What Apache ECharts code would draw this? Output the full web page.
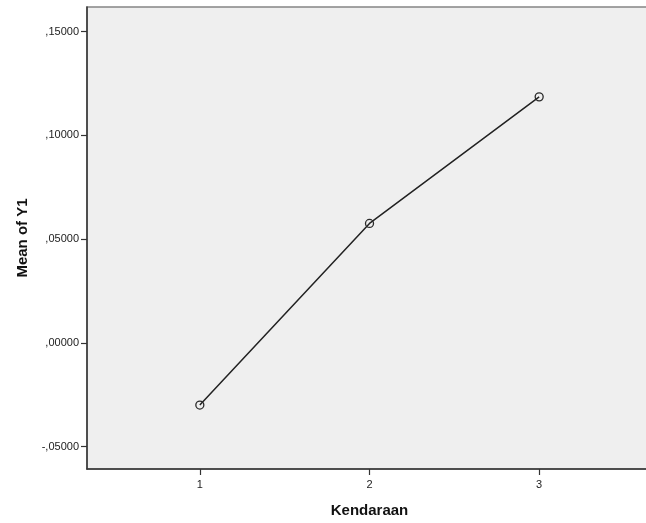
<!DOCTYPE html>
<html>
<head>
<meta charset="utf-8">
<script src="https://cdn.jsdelivr.net/npm/echarts@6/dist/echarts.min.js"></script>
<style>html,body{margin:0;padding:0;background:#fff;}#c{width:646px;height:523px;}</style>
</head>
<body>
<div id="c"></div>
<script>
var categories = [1, 2, 3];
var meanY1 = [-0.0300, 0.0575, 0.1185];
var yTicks = [-0.05, 0, 0.05, 0.10, 0.15];
var xTicks = [1, 2, 3];

var chart = echarts.init(document.getElementById('c'), null, {renderer: 'canvas'});
var font = 'Liberation Sans, Arial, sans-serif';
function fmt(v) {
  var s = Math.abs(v).toFixed(5).replace(/^0\./, ',');
  return (v < 0 ? '-' : '') + s;
}
chart.setOption({
  animation: false,
  backgroundColor: '#ffffff',
  grid: {
    left: 87, top: 7, bottom: 54, right: -6,
    outerBoundsMode: 'none', containLabel: false,
    show: true, backgroundColor: '#efefef', borderColor: '#858585', borderWidth: 1.5
  },
  xAxis: {
    type: 'value', min: 0.335, max: 3.665,
    name: 'Kendaraan', nameLocation: 'middle', nameGap: 34,
    nameTextStyle: {fontFamily: font, fontSize: 15, fontWeight: 'bold', color: '#111'},
    axisLine: {show: true, onZero: false, lineStyle: {color: '#333', width: 1.5}},
    axisTick: {show: true, length: 6, customValues: xTicks, lineStyle: {color: '#333', width: 1.2}},
    axisLabel: {customValues: xTicks, margin: 10, fontFamily: font, fontSize: 11, color: '#222'},
    splitLine: {show: false}
  },
  yAxis: {
    type: 'value', min: -0.0608, max: 0.1618,
    name: 'Mean of Y1', nameLocation: 'middle', nameGap: 55, nameRotate: 90,
    nameTextStyle: {fontFamily: font, fontSize: 15, fontWeight: 'bold', color: '#111'},
    axisLine: {show: true, onZero: false, lineStyle: {color: '#333', width: 1.5}},
    axisTick: {show: true, length: 6, customValues: yTicks, lineStyle: {color: '#333', width: 1.2}},
    axisLabel: {customValues: yTicks, margin: 8, fontFamily: font, fontSize: 11, color: '#222',
      formatter: function (v) { return fmt(v); }},
    splitLine: {show: false}
  },
  series: [{
    type: 'line',
    data: categories.map(function (c, i) { return [c, meanY1[i]]; }),
    symbol: 'circle', symbolSize: 8,
    itemStyle: {color: 'rgba(0,0,0,0)', borderColor: '#2a2a2a', borderWidth: 1.3},
    lineStyle: {color: '#222', width: 1.5},
    emphasis: {disabled: true}
  }]
});
</script>
</body>
</html>
